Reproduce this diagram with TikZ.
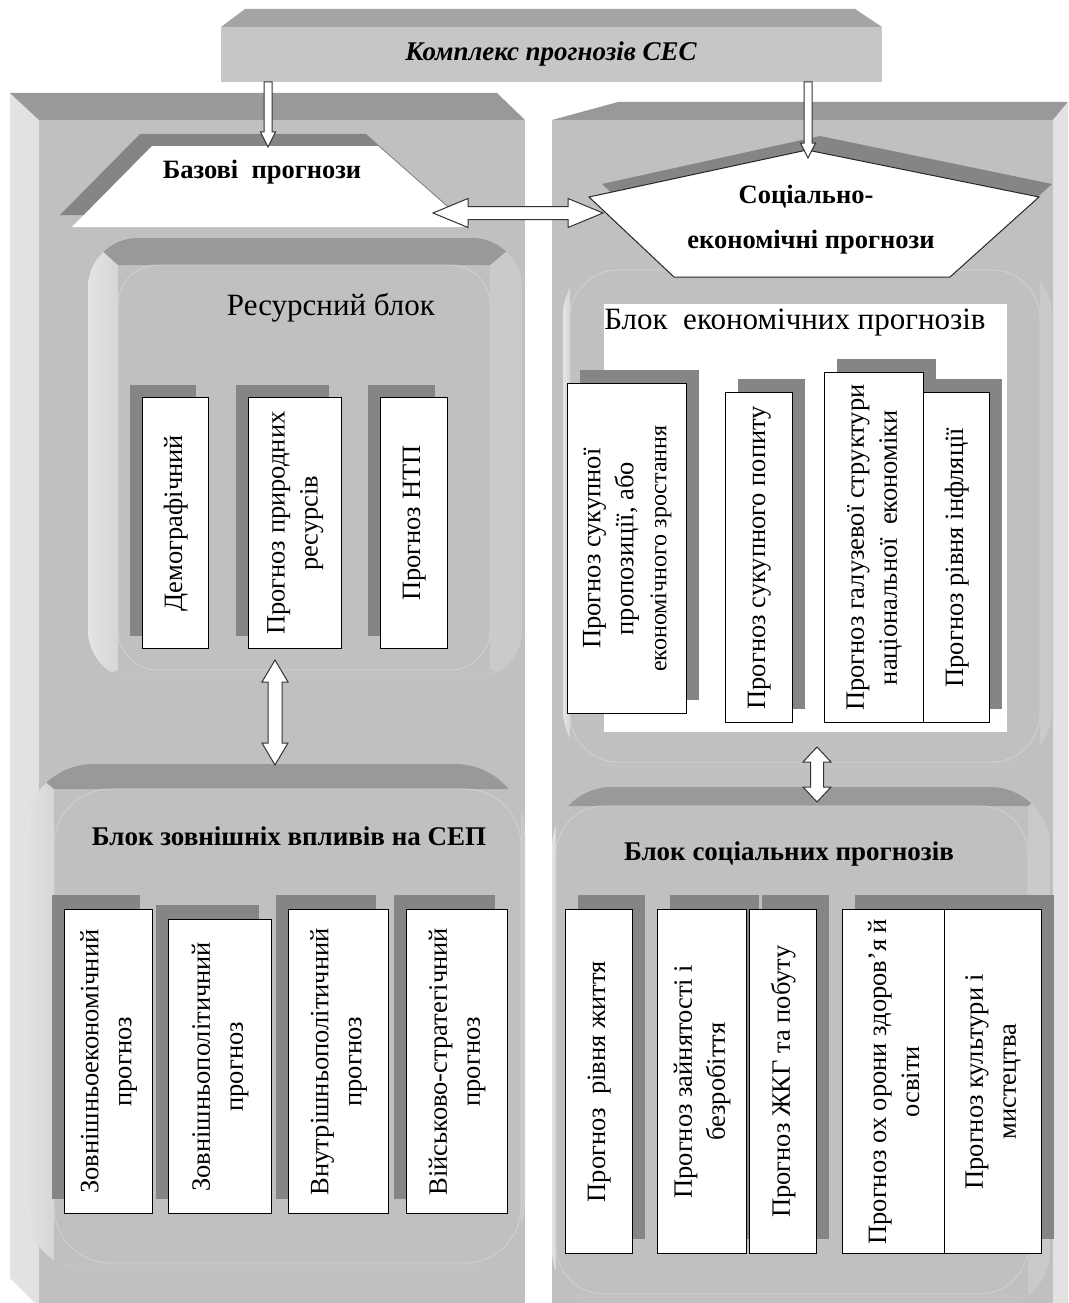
\documentclass[tikz,border=0pt]{standalone}
\usepackage{fontspec}
\setmainfont{Liberation Serif}
\definecolor{panel}{HTML}{C0C0C0}
\definecolor{ptop}{HTML}{999999}
\definecolor{pside}{HTML}{E2E2E2}
\definecolor{bantop}{HTML}{A4A4A4}
\definecolor{banfront}{HTML}{C6C6C6}
\definecolor{shadowc}{HTML}{858585}
\definecolor{bandtop}{HTML}{999999}
\definecolor{bandlight}{HTML}{E4E4E4}
\definecolor{bandright}{HTML}{CACACA}
\definecolor{bandbot}{HTML}{C2C2C2}
\definecolor{innerline}{HTML}{D2D2D2}
\newcommand\bevelblk[9]{%
 \begin{scope}
  \clip[rounded corners=#9pt] (#1,#2) rectangle (#3,#4);
  \fill[panel] (#1,#2) rectangle (#3,#4);
  \fill[bandright] (#3,#2) -- (#7,#6) -- (#7,#8) -- (#3,#4) -- cycle;
  \fill[bandbot] (#1,#4) -- (#5,#8) -- (#7,#8) -- (#3,#4) -- cycle;
  \shade[left color=bandlight,right color=bandlight!60!panel] (#1,#2) -- (#5,#6) -- (#5,#8) -- (#1,#4) -- cycle;
  \fill[bandtop] (#1,#2) -- (#3,#2) -- (#7,#6) -- (#5,#6) -- cycle;
 \end{scope}
 \pgfmathsetmacro\irad{#9*0.8}
 \draw[draw=innerline,line width=0.8pt,fill=panel,rounded corners=\irad pt] (#5,#6) rectangle (#7,#8);
}
\newcommand\shbox[6]{\fill[shadowc] ({#1+#5},{#2+#6}) rectangle ({#3+#5},{#4+#6});}
\newcommand\wbox[6]{%
 \node[wbox,minimum width={#4-#2},minimum height={#5-#3},anchor=north west] (#1) at (#2,#3) {};
 \node[rtext] (#1t) at (#1.center) {#6};}
\newcommand\sarrdown[3]{% x ytop ybot
 \path[arr] ({#1-4},#2) -- ({#1+4},#2) -- ({#1+4},{#3-15}) -- ({#1+7.5},{#3-15}) -- (#1,#3) -- ({#1-7.5},{#3-15}) -- ({#1-4},{#3-15}) -- cycle;}
\newcommand\vdarr[6]{% x ytop ybot headlen halfhead halfshaft
 \path[arr] (#1,#2) -- ({#1+#5},{#2+#4}) -- ({#1+#6},{#2+#4}) -- ({#1+#6},{#3-#4}) -- ({#1+#5},{#3-#4}) -- (#1,#3) -- ({#1-#5},{#3-#4}) -- ({#1-#6},{#3-#4}) -- ({#1-#6},{#2+#4}) -- ({#1-#5},{#2+#4}) -- cycle;}
\newcommand\hdarr[6]{% y xl xr headlen halfhead halfshaft
 \path[arr] (#2,#1) -- ({#2+#4},{#1-#5}) -- ({#2+#4},{#1-#6}) -- ({#3-#4},{#1-#6}) -- ({#3-#4},{#1-#5}) -- (#3,#1) -- ({#3-#4},{#1+#5}) -- ({#3-#4},{#1+#6}) -- ({#2+#4},{#1+#6}) -- ({#2+#4},{#1+#5}) -- cycle;}
\begin{document}
\begin{tikzpicture}[x=1pt,y=-1pt,
  rtext/.style={rotate=90,align=center,inner sep=0pt,font=\fontsize{26.5}{33}\selectfont},
  wbox/.style={draw=black,line width=1.4pt,fill=white,inner sep=0pt},
  arr/.style={draw=black!80,line width=1pt,fill=white,line join=miter},
  head/.style={inner sep=0pt,font=\fontsize{31}{36}\selectfont},
  bhead/.style={inner sep=0pt,font=\fontsize{27}{31}\selectfont\bfseries}]
\useasboundingbox (0,0) rectangle (1068,1303);
\fill[white] (0,0) rectangle (1068,1303);
% left panel
\fill[pside] (10,93) -- (39,120) -- (39,1303) -- (35,1303) -- (10,1278) -- cycle;
\fill[ptop] (10,93) -- (497,93) -- (525,120) -- (39,120) -- cycle;
\fill[panel] (39,120) rectangle (525,1303);
% right panel
\fill[ptop] (552,120) -- (618,102) -- (1068,102) -- (1053,120) -- cycle;
\fill[pside] (1053,120) -- (1068,102) -- (1068,1303) -- (1053,1303) -- cycle;
\fill[panel] (552,120) rectangle (1053,1303);
% banner
\fill[bantop] (245,9) -- (855,9) -- (882,27) -- (221,27) -- cycle;
\node[fill=banfront,minimum width=661,minimum height=55,anchor=north west,inner sep=0pt] (banner) at (221,27) {};
\node[inner sep=0pt,font=\fontsize{27}{31}\selectfont\bfseries\itshape] (title) at (551,54) {Комплекс прогнозів СЕС};
% bevel blocks
\bevelblk{88}{238}{522}{680}{118}{265}{490}{670}{50}
\bevelblk{24}{764}{525}{1273}{54}{789}{521}{1263}{70}
\colorlet{bandtop}{panel}
\bevelblk{563}{256}{1052}{770}{570}{270}{1040}{762}{60}
\colorlet{bandtop}{ptop}
\bevelblk{552}{787}{1050}{1310}{556}{806}{1028}{1294}{60}
\fill[white] (604,304) rectangle (1007,732);
% base trapezoid
\fill[shadowc] (140,134) -- (366,134) -- (458,215) -- (60,215) -- cycle;
\fill[white] (152,146) -- (378,146) -- (470,227) -- (72,227) -- cycle;
\node[bhead,font=\fontsize{26.5}{31}\selectfont\bfseries] (base) at (262,172) {Базові\ \ прогнози};
% pentagon
\fill[shadowc] (820,136) -- (1052,184) -- (963,264) -- (687,264) -- (602,184) -- cycle;
\draw[fill=white,draw=black!85,line width=1pt] (807,150) -- (1039,197) -- (950,277) -- (674,277) -- (589,197) -- cycle;
\node[bhead,font=\fontsize{26.5}{31}\selectfont\bfseries] (soc1) at (806,197) {Соціально-};
\node[bhead,font=\fontsize{26.5}{31}\selectfont\bfseries] (soc2) at (811,242) {економічні прогнози};
% headings
\node[head] (res) at (331,308) {Ресурсний блок};
\node[head] (eco) at (795,323) {Блок\ \ економічних прогнозів};
\node[bhead] (ext) at (289,836) {Блок зовнішніх впливів на СЕП};
\node[bhead] (soc) at (789,854) {Блок соціальних прогнозів};
% resource boxes
\shbox{142}{397}{208}{648}{-12}{-12}
\shbox{248}{397}{341}{648}{-12}{-12}
\shbox{380}{397}{447}{648}{-12}{-12}
\wbox{r1}{142}{397}{208}{648}{Демографічний}
\wbox{r2}{248}{397}{341}{648}{Прогноз природних\\ресурсів}
\wbox{r3}{380}{397}{447}{648}{Прогноз НТП}
% economic boxes
\shbox{567}{383}{686}{713}{13}{-13}
\shbox{725}{392}{792}{722}{13}{-13}
\shbox{824}{372}{923}{722}{13}{-13}
\shbox{923}{392}{989}{722}{13}{-13}
\wbox{ea}{567}{383}{686}{713}{Прогноз сукупної\\пропозиції, або\\{\fontsize{24}{30}\selectfont економічного зростання}}
\wbox{eb}{725}{392}{792}{722}{Прогноз сукупного попиту}
\wbox{ec}{824}{372}{923}{722}{Прогноз галузевої структури\\національної\ \ економіки}
\wbox{ed}{923}{392}{989}{722}{Прогноз рівня інфляції}
% external boxes
\shbox{64}{909}{152}{1213}{-12}{-14}
\shbox{168}{919}{271}{1213}{-12}{-14}
\shbox{288}{909}{388}{1213}{-12}{-14}
\shbox{406}{909}{507}{1213}{-12}{-14}
\wbox{x1}{64}{909}{152}{1213}{Зовнішньоекономічний\\прогноз}
\wbox{x2}{168}{919}{271}{1213}{Зовнішньополітичний\\прогноз}
\wbox{x3}{288}{909}{388}{1213}{Внутрішньополітичний\\прогноз}
\wbox{x4}{406}{909}{507}{1213}{Військово-стратегічний\\прогноз}
% social boxes
\shbox{565}{909}{632}{1253}{13}{-14}
\shbox{657}{909}{746}{1253}{13}{-14}
\shbox{749}{909}{816}{1253}{13}{-14}
\shbox{842}{909}{944}{1253}{13}{-14}
\shbox{944}{909}{1041}{1253}{13}{-14}
\wbox{s1}{565}{909}{632}{1253}{Прогноз\ \ рівня життя}
\wbox{s2}{657}{909}{746}{1253}{Прогноз зайнятості і\\безробіття}
\wbox{s3}{749}{909}{816}{1253}{Прогноз ЖКГ та побуту}
\wbox{s4}{842}{909}{944}{1253}{Прогноз ох орони здоров’я й\\освіти}
\wbox{s5}{944}{909}{1041}{1253}{Прогноз культури і\\мистецтва}
% arrows
\hdarr{213}{433}{603}{35}{14.5}{6.5}
\vdarr{275}{660}{765}{22}{13}{7}
\vdarr{817}{747}{802}{15}{14}{6.5}
\sarrdown{268}{82}{147}
\sarrdown{808}{82}{158}
\end{tikzpicture}
\end{document}
